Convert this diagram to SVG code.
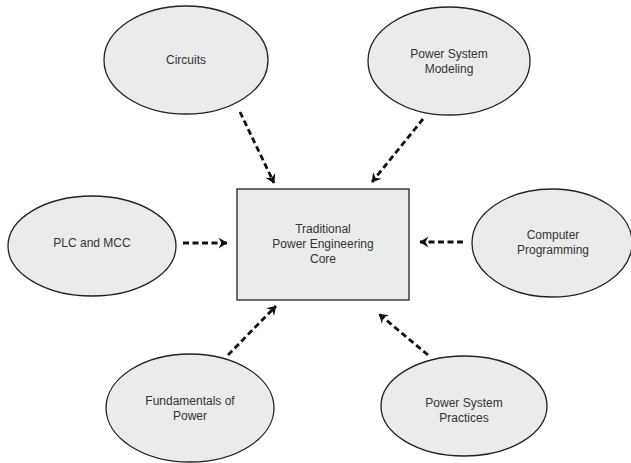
<svg xmlns="http://www.w3.org/2000/svg" width="631" height="463" viewBox="0 0 631 463">
<style>
.n{fill:#ebebeb;stroke:#222;stroke-width:1.3}
.t{font-family:"Liberation Sans",Arial,sans-serif;font-size:12px;fill:#333;text-anchor:middle}
.c{fill:none;stroke:#111;stroke-width:2.8;stroke-dasharray:6,3.5}
</style>
<defs>
<marker id="ah" viewBox="0 0 12 12" refX="10" refY="6" markerWidth="12" markerHeight="12" markerUnits="userSpaceOnUse" orient="auto">
<path d="M1.5,0.5 L10.5,6 L1.5,11.5 L4.5,6 Z" fill="#111"/>
</marker>
</defs>
<rect width="631" height="463" fill="#fff"/>
<g id="connectors">
<line class="c" x1="240" y1="112" x2="274" y2="183" marker-end="url(#ah)"/>
<line class="c" x1="423" y1="119" x2="372" y2="182" marker-end="url(#ah)"/>
<line class="c" x1="183" y1="243" x2="227" y2="243" marker-end="url(#ah)"/>
<line class="c" x1="463" y1="242" x2="420" y2="242" marker-end="url(#ah)"/>
<line class="c" x1="228" y1="355" x2="276" y2="306" marker-end="url(#ah)"/>
<line class="c" x1="428" y1="355" x2="379" y2="314" marker-end="url(#ah)"/>
</g>
<g id="core">
<rect class="n" x="237" y="189" width="172" height="111"/>
<text class="t" x="323" y="233">Traditional</text>
<text class="t" x="323" y="248">Power Engineering</text>
<text class="t" x="323" y="263">Core</text>
</g>
<g id="circuits">
<ellipse class="n" cx="186" cy="60" rx="82" ry="54"/>
<text class="t" x="186" y="64">Circuits</text>
</g>
<g id="modeling">
<ellipse class="n" cx="449" cy="61" rx="81" ry="54"/>
<text class="t" x="449" y="58">Power System</text>
<text class="t" x="449" y="73">Modeling</text>
</g>
<g id="plc">
<ellipse class="n" cx="92" cy="246" rx="84" ry="50"/>
<text class="t" x="92" y="247">PLC and MCC</text>
</g>
<g id="programming">
<ellipse class="n" cx="552" cy="243" rx="80" ry="54"/>
<text class="t" x="553" y="239">Computer</text>
<text class="t" x="553" y="254">Programming</text>
</g>
<g id="fundamentals">
<ellipse class="n" cx="190" cy="408" rx="84" ry="54"/>
<text class="t" x="190" y="405">Fundamentals of</text>
<text class="t" x="190" y="420">Power</text>
</g>
<g id="practices">
<ellipse class="n" cx="464" cy="406" rx="83" ry="50"/>
<text class="t" x="464" y="407">Power System</text>
<text class="t" x="464" y="422">Practices</text>
</g>
</svg>
